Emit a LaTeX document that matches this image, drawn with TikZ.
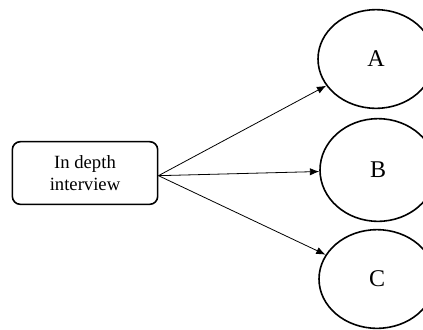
\documentclass[tikz,border=0pt]{standalone}
\usepackage{fontspec}
\setmainfont{Liberation Serif}
\usetikzlibrary{arrows.meta,shapes.geometric}

\begin{document}
\begin{tikzpicture} [x=0.75pt,y=-0.75pt,
  box/.style={draw,line width=1.2pt,rounded corners=6pt,minimum width=109pt,minimum height=47pt,align=center,font=\fontsize{14}{17}\selectfont},
  oval/.style={draw,line width=1.2pt,ellipse,minimum width=87pt,minimum height=74pt,font=\fontsize{18}{20}\selectfont},
  arr/.style={-{Latex[length=7pt,width=5.5pt]},line width=0.6pt}]
			\useasboundingbox (0,0) rectangle (423,329);
			\clip (0,0) rectangle (423,329);
			
			\node[box] (interview) at (85,173) {In depth\\interview};
			
			\node[oval] (A) at (376,59) {A};
			\node[oval,minimum height=77pt] (B) at (378,170) {B};
			\node[oval] (C) at (377,279) {C};
			
			\foreach \e in {A,B,C}
			\draw[arr] ([yshift=-2pt]interview.east) -- (\e);
			\end{tikzpicture}
\end{document}
